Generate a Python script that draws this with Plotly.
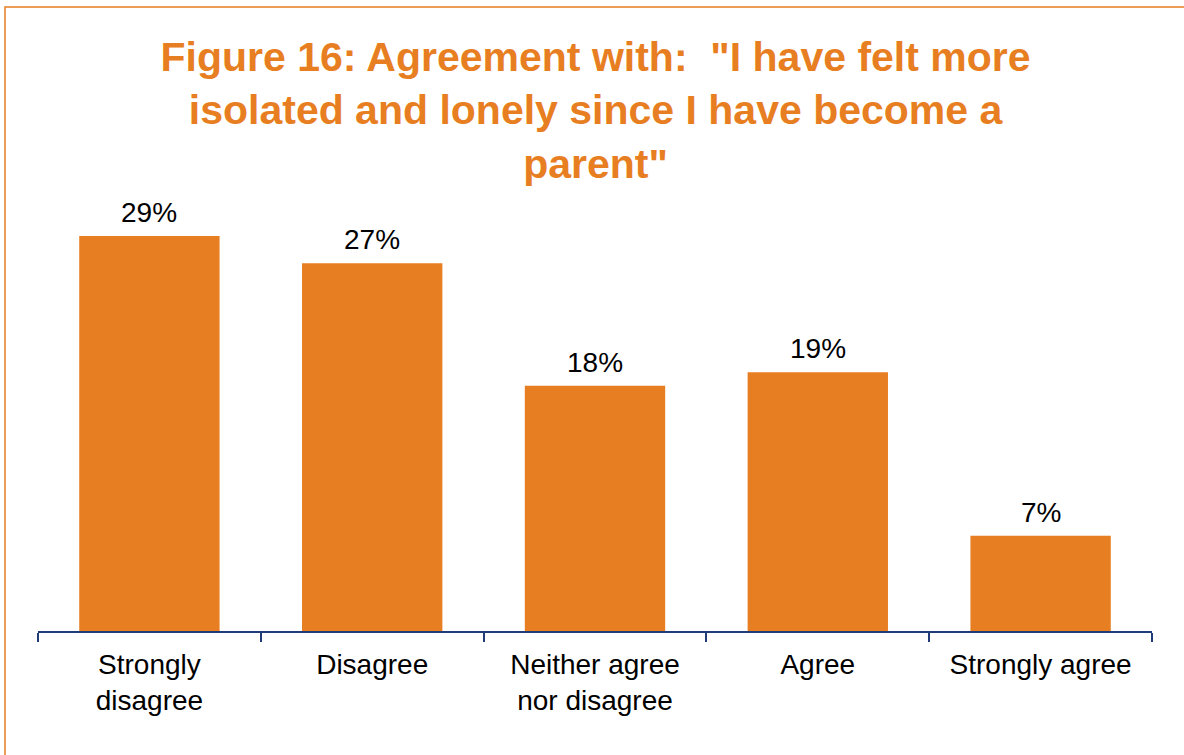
import plotly.graph_objects as go

categories = ["Strongly<br>disagree", "Disagree", "Neither agree<br>nor disagree", "Agree", "Strongly agree"]
values = [29, 27, 18, 19, 7]
value_labels = ["29%", "27%", "18%", "19%", "7%"]

ORANGE = "#E87E22"
NAVY = "#1F3C78"
W, H = 1184, 755
L, R, T, B = 38, 32, 195, 124

fig = go.Figure()
fig.add_trace(go.Bar(x=categories, y=values, marker=dict(color=ORANGE, line=dict(width=0)),
                     width=0.63, hoverinfo="skip"))

for c, v, t in zip(categories, values, value_labels):
    fig.add_annotation(x=c, y=v, text=t, showarrow=False, yanchor="bottom", yshift=6,
                       font=dict(family="Liberation Sans, Arial", size=28, color="#000000"))

pw = W - L - R
ph = H - T - B
def px_x(p):
    return (p - L) / pw
def px_y(p):
    return (H - B - p) / ph

fig.add_shape(type="rect", xref="paper", yref="paper",
              x0=px_x(5), x1=px_x(1195), y0=px_y(765), y1=px_y(7),
              line=dict(color=ORANGE, width=1.5), fillcolor="rgba(0,0,0,0)", layer="below")

fig.update_layout(
    width=W, height=H,
    margin=dict(l=L, r=R, t=T, b=B),
    paper_bgcolor="white", plot_bgcolor="white",
    showlegend=False,
    title=dict(text='Figure 16: Agreement with:  "I have felt more<br>isolated and lonely since I have become a<br>parent"',
               x=0.503, xanchor="center", y=1 - 71 / H, yanchor="top", yref="container",
               font=dict(family="Liberation Sans, Arial", size=41, color=ORANGE, weight="bold")),
    xaxis=dict(showline=True, linecolor=NAVY, linewidth=2, ticks="outside", tickson="boundaries",
               ticklen=9, tickcolor=NAVY, tickwidth=2, showgrid=False, ticklabelstandoff=7,
               tickfont=dict(family="Liberation Sans, Arial", size=28, color="#000000")),
    yaxis=dict(visible=False, range=[0, 32], showgrid=False, zeroline=False),
)

fig.write_html("out.html", config={"displayModeBar": False},
               post_script="document.body.style.margin='0';document.body.style.overflow='hidden';")
